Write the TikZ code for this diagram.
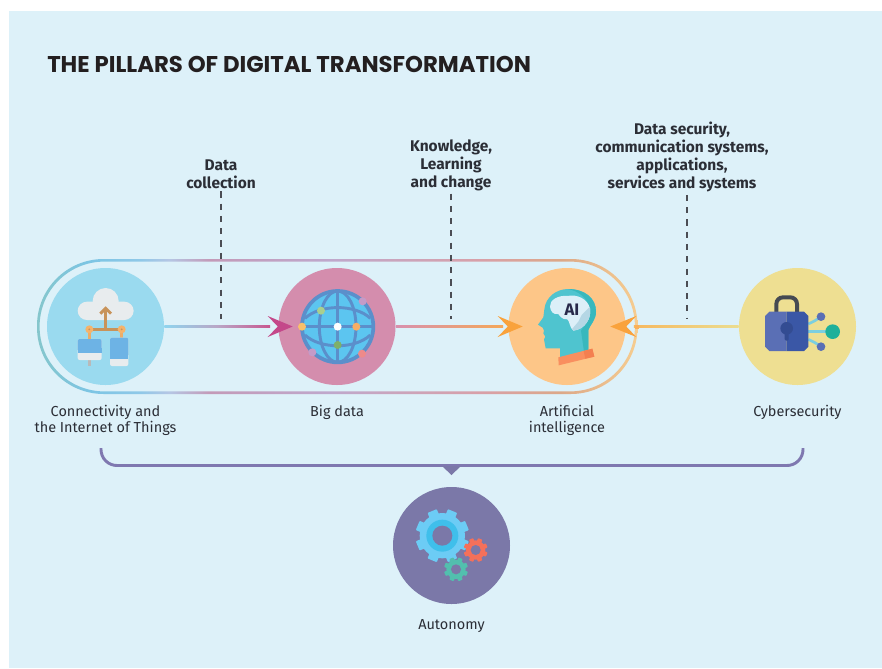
\documentclass[tikz,border=0pt]{standalone}
\usepackage{fontspec}
\setmainfont{Fira Sans}
\newfontfamily\titlefont{Poppins}
\usetikzlibrary{calc}
\definecolor{panel}{HTML}{DDF1F9}
\definecolor{ink}{HTML}{2B2E36}
\definecolor{titleink}{HTML}{231F20}
\definecolor{c0}{HTML}{85C6CC}\definecolor{c1}{HTML}{7CC5E4}\definecolor{c2}{HTML}{8FC8E8}
\definecolor{c3}{HTML}{B5C6E4}\definecolor{c4}{HTML}{C39AB8}\definecolor{c5}{HTML}{BFA8CC}
\definecolor{c6}{HTML}{D8A0A8}\definecolor{c7}{HTML}{DCA888}\definecolor{c8}{HTML}{F6CD90}
\pgfdeclarehorizontalshading{capsuleshade}{100bp}{
 color(0bp)=(c0);color(25bp)=(c0);color(29.4bp)=(c1);color(33.6bp)=(c2);color(36bp)=(c3);
 color(39.4bp)=(c4);color(49.4bp)=(c5);color(62bp)=(c6);color(68.6bp)=(c7);color(75bp)=(c8);color(100bp)=(c8)}
\definecolor{l1a}{HTML}{8FD4EE}\definecolor{l1b}{HTML}{B9A6C6}\definecolor{l1c}{HTML}{C8578F}
\pgfdeclarehorizontalshading{lineone}{100bp}{
 color(0bp)=(l1a);color(25bp)=(l1a);color(50bp)=(l1b);color(75bp)=(l1c);color(100bp)=(l1c)}
\definecolor{l2a}{HTML}{D890AE}\definecolor{l2b}{HTML}{F4A85A}
\pgfdeclarehorizontalshading{linetwo}{100bp}{
 color(0bp)=(l2a);color(25bp)=(l2a);color(75bp)=(l2b);color(100bp)=(l2b)}
\definecolor{l3a}{HTML}{F6B85F}\definecolor{l3b}{HTML}{EBDD90}
\pgfdeclarehorizontalshading{linethree}{100bp}{
 color(0bp)=(l3a);color(25bp)=(l3a);color(75bp)=(l3b);color(100bp)=(l3b)}
\definecolor{ciot}{HTML}{9ADAEF}\definecolor{cbd}{HTML}{D48DAD}\definecolor{cai}{HTML}{FDC688}
\definecolor{ccy}{HTML}{EEDF92}\definecolor{cau}{HTML}{7B78A8}
\definecolor{cloudc}{HTML}{E8ECEE}\definecolor{brownc}{HTML}{C8935A}\definecolor{dotc}{HTML}{F5B36B}
\definecolor{devc}{HTML}{6DB3E5}
\definecolor{globef}{HTML}{5CC5F0}\definecolor{globel}{HTML}{5B8FCB}
\definecolor{headc}{HTML}{4FC4CF}\definecolor{headd}{HTML}{38B8BD}
\definecolor{brainl}{HTML}{DCEFF8}\definecolor{braind}{HTML}{B5D7E5}
\definecolor{lockl}{HTML}{5A6FB5}\definecolor{lockd}{HTML}{3A57A6}
\definecolor{tracec}{HTML}{7CCFE0}
\definecolor{arrp}{HTML}{C4488A}\definecolor{arro}{HTML}{F9A23C}
\definecolor{dA}{HTML}{F9C06A}\definecolor{dB}{HTML}{A9CF8F}\definecolor{dC}{HTML}{C49BC8}
\definecolor{dD}{HTML}{F6AE66}\definecolor{dE}{HTML}{7FB069}\definecolor{dF}{HTML}{EE8A8A}
\definecolor{collar}{HTML}{F98F5F}\definecolor{collard}{HTML}{F47F50}
\definecolor{gearb}{HTML}{6CCCF5}\definecolor{gearr}{HTML}{3FBFEB}\definecolor{gearo}{HTML}{F4705A}\definecolor{gearg}{HTML}{52BFAE}
\definecolor{brack}{HTML}{7F78B0}\definecolor{shack}{HTML}{454A52}\definecolor{hub}{HTML}{1FB09A}
\newcommand{\mygear}[7]{%
 \foreach \a in {0,45,...,315}{\fill[#6,shift={(#1,#2)},rotate=\a+22.5,rounded corners=.6pt] (-#5,0) rectangle (#5,#3);}
 \fill[#6] (#1,#2) circle[radius=#4];
 \fill[#7] (#1,#2) circle[radius=#3*0.42];}
\newcommand{\brainpath}{(210,200) .. controls (208,180) and (235,165) .. (262,168) .. controls (290,162) and (322,175) .. (330,205) .. controls (335,235) and (315,268) .. (280,272) .. controls (268,262) and (270,245) .. (262,238) .. controls (245,240) and (238,225) .. (235,222) .. controls (220,225) and (212,215) .. (210,200) -- cycle}
\tikzset{
 pillar/.style={circle,minimum size=87.75pt,inner sep=0pt,draw=none},
 callout/.style={text=ink,align=center,font=\fontsize{11.6}{13.5}\selectfont\bfseries,inner sep=0pt},
 pillarlabel/.style={text=ink,align=center,font=\fontsize{10.85}{12}\selectfont,inner sep=0pt},
 leader/.style={draw=ink!85,line width=.9pt,dash pattern=on 4.6pt off 4.6pt,shorten <=2pt},
 zoomed/.style={shift={#1},x=.25pt,y=-.25pt}
}
\begin{document}
\begin{tikzpicture}[x=.75pt,y=-.75pt]
\useasboundingbox (0,0) rectangle (882,668);
\fill[white] (0,0) rectangle (882,668);
\fill[panel] (9,11) rectangle (882,668);
\node[anchor=west,inner sep=0pt,text=titleink,font=\titlefont\bfseries\fontsize{17.1}{19}\selectfont] (title) at (47,64) {THE PILLARS OF DIGITAL TRANSFORMATION};
% capsule
\shade[shading=capsuleshade,even odd rule]
 [rounded corners=50pt] (37,259) rectangle (637.5,394)
 [rounded corners=48.5pt] (39.6,261.6) rectangle (634.9,391.4);
% pillars
\node[pillar,fill=ciot] (iot) at (105.5,326.5) {};
\node[pillar,fill=cbd] (bd) at (337,326.5) {};
\node[pillar,fill=cai] (ai) at (567,326.5) {};
\node[pillar,fill=ccy] (cy) at (797.5,326.5) {};
\node[pillar,fill=cau] (au) at (451.5,545.5) {};
% connector bars
\shade[shading=lineone] ($(iot.east)+(0,-1.3)$) rectangle ($(bd.west)+(-8,1.3)$);
\shade[shading=linetwo] ($(bd.east)+(0,-1.3)$) rectangle ($(ai.west)+(-5,1.3)$);
\shade[shading=linethree] ($(ai.east)+(8,-1.3)$) rectangle ($(cy.west)+(0,1.3)$);
% arrowheads
\fill[arrp] ($(bd.west)+(-10.5,-10.5)$) -- ($(bd.west)+(14.5,0)$) -- ($(bd.west)+(-10.5,10.5)$) -- ($(bd.west)+(-0.5,0)$) -- cycle;
\fill[arro] ($(ai.west)+(-10.5,-10.5)$) -- ($(ai.west)+(14.5,0)$) -- ($(ai.west)+(-10.5,10.5)$) -- ($(ai.west)+(-0.5,0)$) -- cycle;
\fill[arro] ($(ai.east)+(10.5,-10.5)$) -- ($(ai.east)+(-15.5,0)$) -- ($(ai.east)+(10.5,10.5)$) -- ($(ai.east)+(0.5,0)$) -- cycle;
\fill[arro!85!white] ($(ai.east)+(9,-2)$) rectangle ($(ai.east)+(13,2)$);
% IoT icon
\begin{scope}[zoomed={(20,240)}]
 \fill[cloudc] (257,183) circle[radius=39];
 \fill[cloudc,rounded corners=7pt] (173,185) rectangle (341,240);
 \draw[brownc,line width=2.2pt] (257,268) -- (257,208);
 \draw[brownc,line width=2.2pt] (241,221) -- (257,205) -- (273,221);
 \draw[brownc,line width=2.2pt] (208,268) -- (305,268);
 \draw[dotc!80!brownc,line width=2.2pt] (208,268) -- (208,298) (305,268) -- (305,295);
 \fill[dotc] (208,268) circle[radius=12] (305,268) circle[radius=12];
 \fill[brownc] (208,268) circle[radius=3] (305,268) circle[radius=3];
 \fill[gray!55] (204,355) rectangle (213,378);
 \fill[cloudc,rounded corners=1.5pt] (173,297) rectangle (245,360);
 \fill[devc,rounded corners=1.5pt] (173,297) rectangle (245,335);
 \fill[devc] (173,325) rectangle (245,340);
 \fill[cloudc,rounded corners=1.5pt] (270,293) rectangle (325,378);
 \fill[devc,rounded corners=1.5pt] (270,293) rectangle (325,350);
 \fill[devc] (270,340) rectangle (325,357);
\end{scope}
% globe icon
\begin{scope}[zoomed={(270,260)}]
 \fill[globef] (203,200) circle[radius=107];
 \begin{scope}
  \clip (203,200) circle[radius=107];
  \draw[globel,line width=2.2pt] (203,200) ellipse[x radius=55,y radius=107];
  \draw[globel,line width=2.2pt] (96,200) -- (310,200) (203,93) -- (203,307);
  \draw[globel,line width=2.2pt] (105,175) .. controls (150,132) and (256,132) .. (301,175);
  \draw[globel,line width=2.2pt] (105,225) .. controls (150,268) and (256,268) .. (301,225);
 \end{scope}
 \draw[globel,line width=2.8pt] (203,200) circle[radius=107];
 \fill[dA] (96,200) circle[radius=12];
 \fill[dB] (153,152) circle[radius=12];
 \fill[dC] (278,124) circle[radius=12];
 \fill[white] (203,200) circle[radius=12];
 \fill[dD] (259,200) circle[radius=12];
 \fill[dE] (203,255) circle[radius=12];
 \fill[dC] (127,277) circle[radius=12];
 \fill[dF] (276,281) circle[radius=12];
\end{scope}
% AI head icon
\begin{scope}[zoomed={(480,240)}]
 \fill[headc] (197,325) -- (192,298) -- (196,290) -- (190,280) -- (192,272) -- (188,263) -- (174,254) -- (190,232) -- (193,208)
   .. controls (197,170) and (230,147) .. (265,147) .. controls (315,147) and (348,175) .. (348,215)
   .. controls (348,240) and (330,255) .. (325,270) -- (325,332) -- (240,352) -- (240,325) -- cycle;
 \fill[headd] (262,147) .. controls (315,147) and (348,175) .. (348,215) .. controls (348,240) and (330,255) .. (325,270) -- (325,332) -- (312,335) -- (303,272)
   .. controls (318,250) and (332,235) .. (328,205) .. controls (324,175) and (295,152) .. (262,147) -- cycle;
 \fill[brainl] \brainpath;
 \begin{scope}
  \clip \brainpath;
  \fill[braind] (335,195) -- (305,225) -- (295,245) -- (272,272) -- (340,285) -- cycle;
 \end{scope}
 \node[text=ink!90!blue,inner sep=0pt,font=\bfseries\fontsize{12.5}{13}\selectfont] (aitext) at (276,209) {AI};
 \fill[collar] (235,352) -- (337,326) -- (343,350) -- (236,376) -- cycle;
 \fill[collard] (311,333) -- (337,326) -- (343,350) -- (316,356) -- cycle;
\end{scope}
% lock icon
\begin{scope}[zoomed={(480,240)}]
 \draw[shack,line width=3pt,rounded corners=5pt] (889,225) -- (889,172) -- (951,172) -- (951,225);
 \draw[tracec,line width=2pt] (985,275) -- (1050,275);
 \draw[tracec,line width=2pt] (985,252) -- (1005,242) -- (1020,232);
 \draw[tracec,line width=2pt] (985,298) -- (1005,308) -- (1020,318);
 \fill[lockl] (1023,230) circle[radius=13] (1023,320) circle[radius=13];
 \fill[hub] (1058,275) circle[radius=22];
 \fill[lockl] (920,215) -- (868,215) -- (855,228) -- (855,320) -- (868,333) -- (920,333) -- cycle;
 \fill[lockd] (920,215) -- (972,215) -- (985,228) -- (985,320) -- (972,333) -- (920,333) -- cycle;
 \fill[lockd!88!black] (920,265) circle[radius=19];
 \fill[lockd!88!black,rounded corners=1pt] (914,270) rectangle (926,302);
\end{scope}
% gears
\begin{scope}[zoomed={(370,440)}]
 \mygear{217}{287}{80}{68}{15}{gearb}{cau}
 \fill[gearr] (217,287) circle[radius=48];
 \fill[cau] (217,287) circle[radius=30];
 \mygear{317}{330}{36}{29}{7}{gearo}{cau}
 \mygear{258}{388}{36}{29}{7}{gearg}{cau}
\end{scope}
% callouts and leaders
\node[callout] (tA) at (221,174) {Data\\collection};
\node[callout] (tB) at (451,165) {Knowledge,\\Learning\\and change};
\node[callout] (tC) at (682,157) {Data security,\\communication systems,\\applications,\\services and systems};
\coordinate (eA) at (221,319);
\coordinate (eB) at (451,319);
\coordinate (eC) at (687,319);
\draw[leader] (tA.south) -- (eA);
\draw[leader] (tB.south) -- (eB);
\draw[leader] (tC.south -| eC) -- (eC);
% labels
\node[pillarlabel] (lA) at (105.5,420) {Connectivity and\\the Internet of Things};
\node[pillarlabel] (lB) at (337,412) {Big data};
\node[pillarlabel] (lC) at (567,420) {Artificial\\intelligence};
\node[pillarlabel] (lD) at (797.5,412) {Cybersecurity};
\node[pillarlabel] (lE) at (451.5,626) {Autonomy};
% bracket
\coordinate (bL) at (101,448);
\coordinate (bR) at (803,448);
\draw[brack,line width=2.2pt,rounded corners=12pt] (bL) -- (101,465.5) -- (803,465.5) -- (bR);
\fill[cau] (442,466) -- (461,466) -- (451.5,475) -- cycle;
\end{tikzpicture}
\end{document}
